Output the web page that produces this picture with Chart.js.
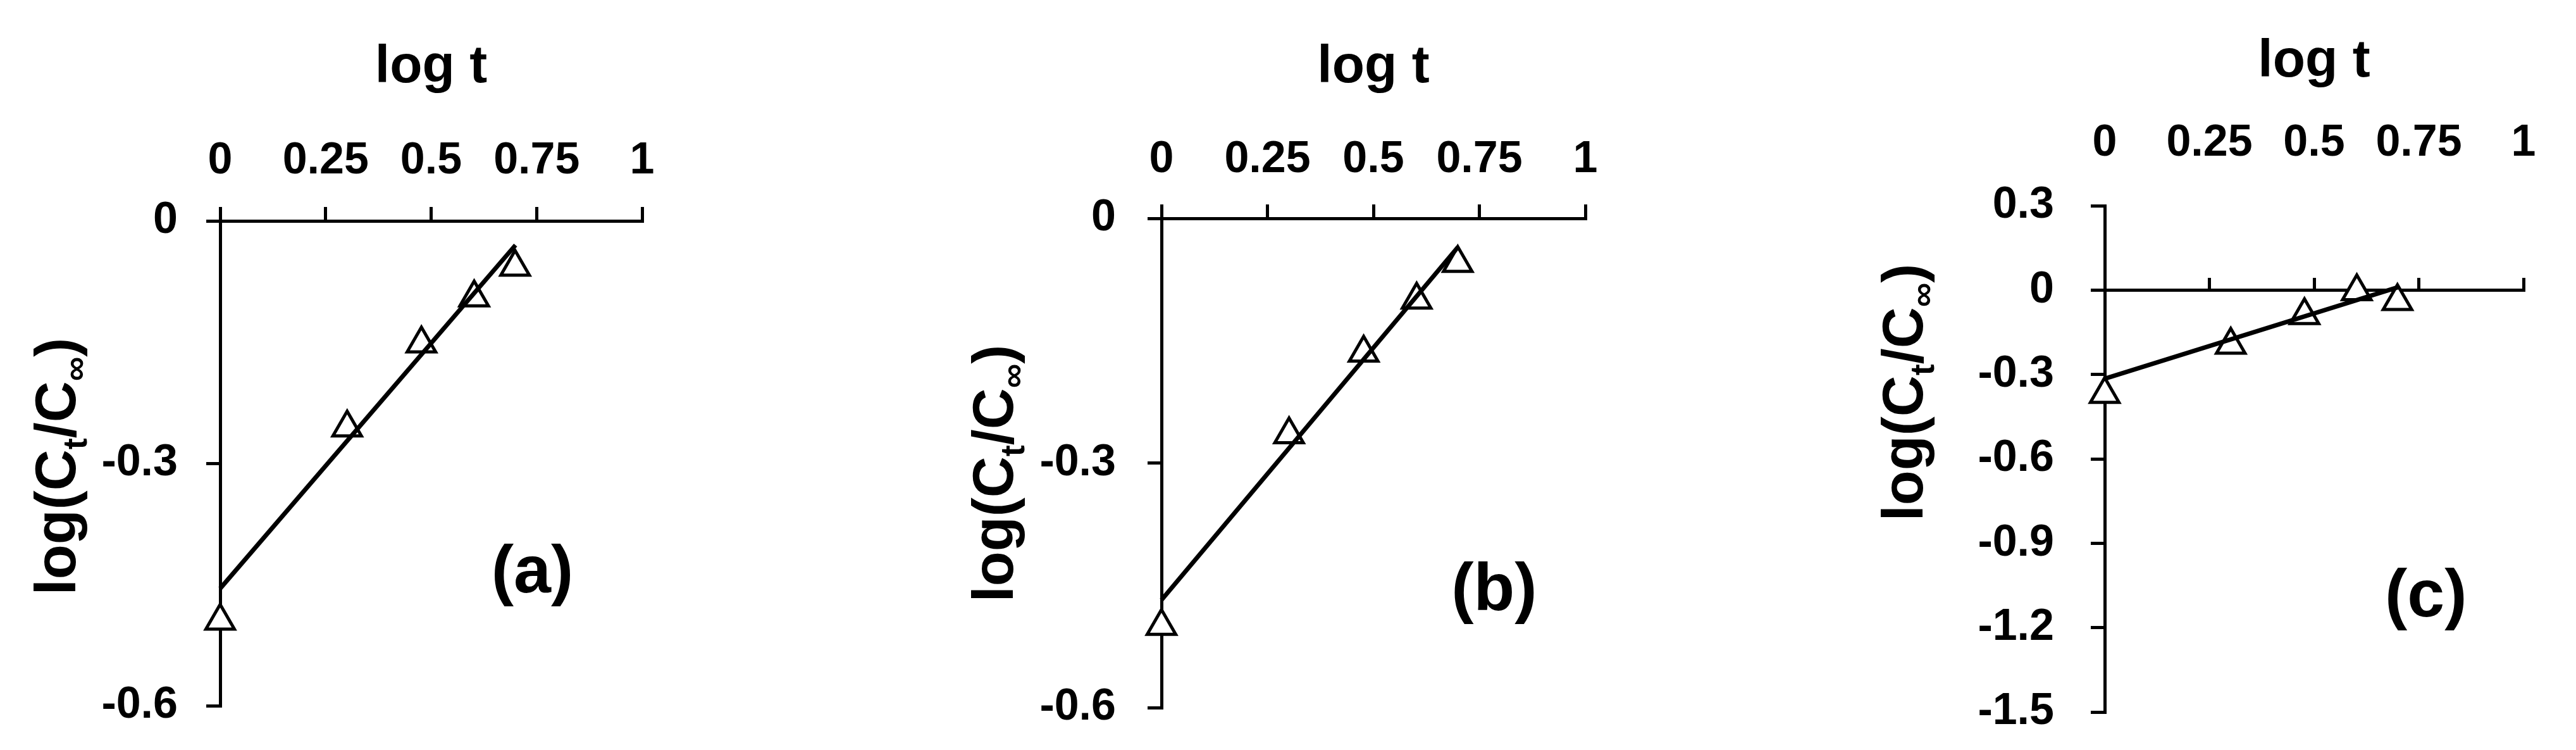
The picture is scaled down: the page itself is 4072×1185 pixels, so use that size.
<!DOCTYPE html>
<html>
<head>
<meta charset="utf-8">
<script src="https://cdn.jsdelivr.net/npm/chart.js@4.4.1/dist/chart.umd.min.js"></script>
<style>
  html, body { margin: 0; padding: 0; background: #fff; }
  body { width: 4072px; height: 1185px; position: relative; overflow: hidden; }
  canvas { position: absolute; top: 0; }
</style>
</head>
<body>
<canvas id="chartA" width="1059" height="1185" style="left:0px"></canvas>
<canvas id="chartB" width="1170" height="1185" style="left:1380px"></canvas>
<canvas id="chartC" width="1133" height="1185" style="left:2900px"></canvas>
<script>
// log t for t = 1..5
const logT = [0, 0.301, 0.477, 0.602, 0.699];

const xTicks = [0, 0.25, 0.5, 0.75, 1];
const xTickLabels = ['0', '0.25', '0.5', '0.75', '1'];

const yTicksAB = [-0.6, -0.3, 0];
const yTickLabelsAB = ['-0.6', '-0.3', '0'];
const yTicksC = [-1.5, -1.2, -0.9, -0.6, -0.3, 0, 0.3];
const yTickLabelsC = ['-1.5', '-1.2', '-0.9', '-0.6', '-0.3', '0', '0.3'];

// measured log(Ct/Cinf)
const seriesA = [-0.495, -0.256, -0.152, -0.095, -0.057];
const seriesB = [-0.50, -0.265, -0.165, -0.10, -0.055];
const seriesC = [-0.37, -0.195, -0.09, -0.005, -0.04];

// fitted lines (end points)
const fitX = [0, 0.70];
const fitA = [-0.455, -0.03];
const fitB = [-0.468, -0.035];
const fitC = [-0.315, 0.01];

const FONT = '"Liberation Sans", Arial, sans-serif';

// rotated y title with subscripts
const yTitle = {
    id: 'yTitle',
    afterDraw(chart, args, opts) {
        const ctx = chart.ctx;
        const big = 'bold 90px ' + FONT;
        const small = 'bold 54px ' + FONT;
        const parts = [['log(C', big, 0], ['t', small, 18], ['/C', big, 0], ['\u221E', small, 18], [')', big, 0]];
        ctx.save();
        ctx.fillStyle = '#000';
        let total = 0;
        parts.forEach(p => { ctx.font = p[1]; total += ctx.measureText(p[0]).width; });
        ctx.translate(opts.x, opts.y);
        ctx.rotate(-Math.PI / 2);
        ctx.textBaseline = 'alphabetic';
        ctx.textAlign = 'left';
        let x = -total / 2;
        parts.forEach(p => {
            ctx.font = p[1];
            ctx.fillText(p[0], x, 32 + p[2]);
            x += ctx.measureText(p[0]).width;
        });
        ctx.restore();
    }
};

// (a) / (b) / (c)
const panelTag = {
    id: 'panelTag',
    afterDraw(chart, args, opts) {
        const ctx = chart.ctx;
        const px = chart.scales.x.getPixelForValue(opts.at[0]);
        const py = chart.scales.y.getPixelForValue(opts.at[1]);
        ctx.save();
        ctx.font = 'bold 106px ' + FONT;
        ctx.fillStyle = '#000';
        ctx.textAlign = 'center';
        ctx.textBaseline = 'middle';
        ctx.fillText(opts.text, px, py);
        ctx.restore();
    }
};

function makePanel(id, cfg) {
    const tickFont = { family: FONT, size: 70, weight: 'bold' };
    const scales = {
        x: {
            type: 'linear', position: 'top', min: 0, max: 1,
            afterBuildTicks: s => { s.ticks = xTicks.map(v => ({ value: v })); },
            afterFit: s => { s.height = cfg.top; s.paddingLeft = 0; s.paddingRight = 0; },
            ticks: { callback: (v, i) => xTickLabels[i], font: tickFont, color: '#000', padding: cfg.xPad, maxRotation: 0, autoSkip: false },
            grid: { display: cfg.topAxis, drawOnChartArea: false, drawTicks: true, tickLength: 22, color: '#000', lineWidth: 5 },
            border: { display: cfg.topAxis, color: '#000', width: 5 },
            title: { display: true, text: 'log t', color: '#000', font: { family: FONT, size: 84, weight: 'bold' }, padding: { top: cfg.titlePad, bottom: 0 } },
            z: 1
        },
        y: {
            type: 'linear', position: 'left', min: cfg.yMin, max: cfg.yMax,
            afterBuildTicks: s => { s.ticks = cfg.yTicks.map(v => ({ value: v })); },
            afterFit: s => { s.width = cfg.left; s.paddingTop = 0; s.paddingBottom = 0; },
            ticks: { callback: (v, i) => cfg.yLabels[i], font: tickFont, color: '#000', padding: cfg.yPad },
            grid: { drawOnChartArea: false, tickLength: 22, color: '#000', lineWidth: 5 },
            border: { color: '#000', width: 5 },
            z: 1
        }
    };
    if (!cfg.topAxis) {
        // axis line through y = 0 with ticks pointing up
        scales.x0 = {
            type: 'linear', axis: 'x', position: { y: 0 }, min: 0, max: 1,
            afterBuildTicks: s => { s.ticks = xTicks.map(v => ({ value: v })); },
            afterFit: s => { s.height = 0; s.paddingLeft = 0; s.paddingRight = 0; },
            ticks: { display: false },
            grid: { drawOnChartArea: false, tickLength: -22, color: '#000', lineWidth: 5 },
            border: { color: '#000', width: 5 },
            z: 1
        };
    }
    return new Chart(document.getElementById(id), {
        type: 'scatter',
        data: {
            datasets: [
                {
                    data: fitX.map((v, i) => ({ x: v, y: cfg.fit[i] })),
                    showLine: true, borderColor: '#000', borderWidth: 7,
                    pointRadius: 0, order: 0, clip: false
                },
                {
                    data: logT.map((v, i) => ({ x: v, y: cfg.series[i] })),
                    pointStyle: 'triangle', pointRadius: 26, pointBorderWidth: 5,
                    pointBorderColor: '#000', pointBackgroundColor: '#fff',
                    order: 1, clip: false
                }
            ]
        },
        options: {
            responsive: false, animation: false, devicePixelRatio: 1,
            events: [],
            layout: { padding: { top: 0, left: 0, right: 44, bottom: cfg.padBottom } },
            plugins: {
                legend: { display: false }, tooltip: { enabled: false },
                yTitle: cfg.yTitle,
                panelTag: cfg.tag
            },
            scales: scales
        },
        plugins: [yTitle, panelTag]
    });
}

makePanel('chartA', {
    left: 348, top: 349, padBottom: 70, xPad: 30, yPad: 45, titlePad: 56, topAxis: true,
    yMin: -0.6, yMax: 0, yTicks: yTicksAB, yLabels: yTickLabelsAB,
    series: seriesA, fit: fitA,
    yTitle: { x: 87, y: 737 }, tag: { text: '(a)', at: [0.74, -0.437] }
});
makePanel('chartB', {
    left: 456, top: 345, padBottom: 67, xPad: 28, yPad: 50, titlePad: 56, topAxis: true,
    yMin: -0.6, yMax: 0, yTicks: yTicksAB, yLabels: yTickLabelsAB,
    series: seriesB, fit: fitB,
    yTitle: { x: 189, y: 748 }, tag: { text: '(b)', at: [0.785, -0.458] }
});
makePanel('chartC', {
    left: 427, top: 325, padBottom: 60, xPad: 34, yPad: 58, titlePad: 47, topAxis: false,
    yMin: -1.5, yMax: 0.3, yTicks: yTicksC, yLabels: yTickLabelsC,
    series: seriesC, fit: fitC,
    yTitle: { x: 107, y: 620 }, tag: { text: '(c)', at: [0.767, -1.095] }
});
</script>
</body>
</html>
